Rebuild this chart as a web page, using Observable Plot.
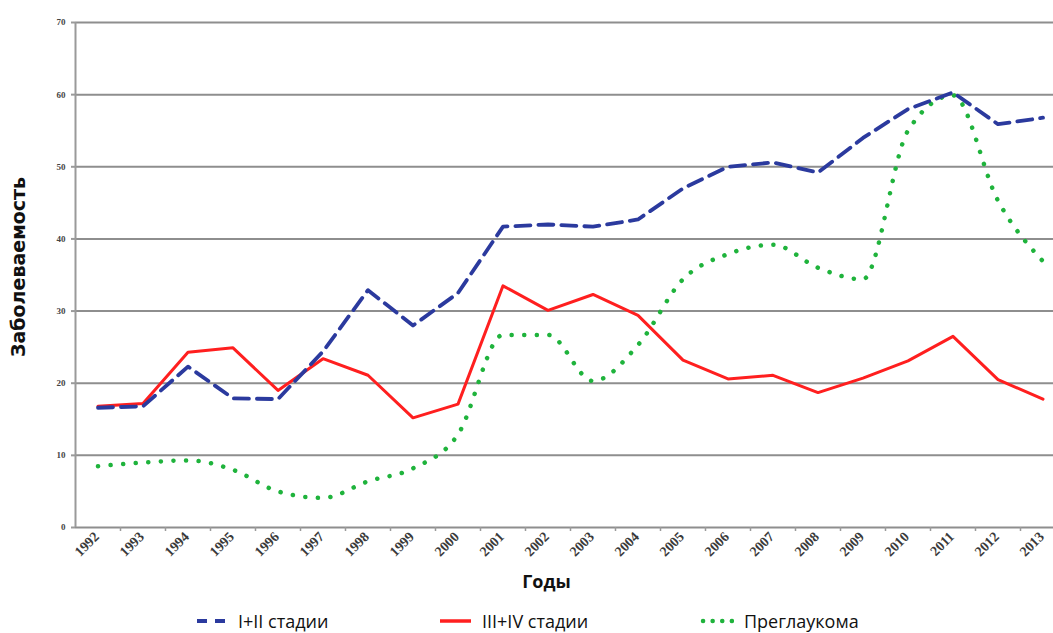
<!DOCTYPE html>
<html><head><meta charset="utf-8">
<script src="https://cdn.jsdelivr.net/npm/d3@7"></script>
<script src="https://cdn.jsdelivr.net/npm/@observablehq/plot@0.6"></script>
<style>
body{margin:0;background:#fff;font-family:"Open Sans",sans-serif;width:1053px;height:633px;overflow:hidden;position:relative;}
#legend{position:absolute;left:0;top:608px;width:1053px;height:25px;}
.item{position:absolute;top:0;display:flex;align-items:center;height:25px;font-size:18px;color:#111;}
.item svg{margin-right:10px;}
</style></head><body>
<div id="chart"></div>
<div id="legend"></div>
<script>
const years = [1992,1993,1994,1995,1996,1997,1998,1999,2000,2001,2002,2003,2004,2005,2006,2007,2008,2009,2010,2011,2012,2013];
const stage12 = [16.6,16.8,22.3,17.9,17.8,24.4,32.9,28.0,32.5,41.7,42.0,41.7,42.7,47.0,50.0,50.6,49.2,54.0,58.0,60.3,55.9,56.8];
const stage34 = [16.8,17.2,24.3,24.9,19.0,23.4,21.1,15.2,17.1,33.5,30.1,32.3,29.4,23.2,20.6,21.1,18.7,20.7,23.1,26.5,20.5,17.8];
const preglaucoma = [8.5,9.0,9.3,8.0,5.0,4.1,6.4,8.2,12.9,26.7,26.7,20.3,25.3,34.4,37.9,39.2,36.0,34.4,55.0,59.9,45.3,36.9];
const yTicks = [0,10,20,30,40,50,60,70];
const seriesNames = ["I+II стадии","III+IV стадии","Преглаукома"];
const seriesColors = ["#2b3a9e","#ff1f1f","#1fb33c"];
const yTitle = "Заболеваемость";
const xTitle = "Годы";

const rows = (vals, name) => years.map((yr, i) => ({year: yr, value: vals[i], series: name}));
const d12 = rows(stage12, seriesNames[0]);
const d34 = rows(stage34, seriesNames[1]);
const dPre = rows(preglaucoma, seriesNames[2]);
const boundaries = years.map(y => y + 0.5);

const chart = Plot.plot({
  width: 1053,
  height: 606,
  marginLeft: 75,
  marginRight: 0,
  marginTop: 22,
  marginBottom: 79,
  style: {background: "#fff", overflow: "visible"},
  x: {type: "linear", domain: [years[0] - 0.5, years[years.length - 1] + 0.5], range: [75, 1065], axis: null},
  y: {domain: [0, 70], axis: null},
  marks: [
    Plot.gridY(yTicks, {stroke: "#8e8e8e", strokeOpacity: 1, strokeWidth: 2}),
    Plot.ruleX([years[0] - 0.5], {y1: 0, y2: 70, stroke: "#9a9a9a", strokeWidth: 2}),
    Plot.axisY(yTicks, {tickSize: 4, tickPadding: 6, stroke: "#9a9a9a", strokeWidth: 2, fontSize: 9, fontWeight: "bold", fill: "#444", fontFamily: "Liberation Serif", label: null}),
    Plot.axisX(boundaries, {tickSize: 4, stroke: "#9a9a9a", strokeWidth: 1.5, tickFormat: () => "", label: null}),
    Plot.text(years, {x: d => d, frameAnchor: "bottom", rotate: -45, textAnchor: "end", dx: 2, dy: 10, fontSize: 14, fontWeight: "bold", fill: "#3a3a3a", fontFamily: "Liberation Serif", text: d => String(d)}),
    Plot.text([yTitle], {frameAnchor: "left", textAnchor: "middle", rotate: -90, dx: -57, dy: -8, fontSize: 19, fontWeight: "bold", fontFamily: "DejaVu Sans", fill: "#111", text: d => d}),
    Plot.text([xTitle], {frameAnchor: "bottom", dx: -18, dy: 60, fontSize: 18, fontWeight: "bold", fontFamily: "Open Sans", fill: "#111", text: d => d}),
    Plot.line(dPre, {x: "year", y: "value", stroke: seriesColors[2], strokeWidth: 4.5, strokeDasharray: "0.1 12.5", strokeLinecap: "round", curve: "monotone-x"}),
    Plot.line(d34, {x: "year", y: "value", stroke: seriesColors[1], strokeWidth: 3, curve: "linear"}),
    Plot.line(d12, {x: "year", y: "value", stroke: seriesColors[0], strokeWidth: 3.8, strokeDasharray: "15 8", curve: "linear"})
  ]
});
document.getElementById("chart").appendChild(chart);

const legendPos = [196, 440, 700];
const legend = document.getElementById("legend");
seriesNames.forEach((name, i) => {
  const item = document.createElement("div");
  item.className = "item";
  item.style.left = legendPos[i] + "px";
  let sample;
  if (i === 0) sample = `<svg width="32" height="10"><line x1="1" y1="5" x2="31" y2="5" stroke="${seriesColors[0]}" stroke-width="4" stroke-dasharray="10 8"/></svg>`;
  else if (i === 1) sample = `<svg width="32" height="10"><line x1="0" y1="5" x2="31" y2="5" stroke="${seriesColors[1]}" stroke-width="3.5"/></svg>`;
  else sample = `<svg width="34" height="10"><line x1="3" y1="5" x2="32" y2="5" stroke="${seriesColors[2]}" stroke-width="4.5" stroke-linecap="round" stroke-dasharray="0.1 9.5"/></svg>`;
  item.innerHTML = sample + `<span>${name}</span>`;
  legend.appendChild(item);
});
</script>
</body></html>
